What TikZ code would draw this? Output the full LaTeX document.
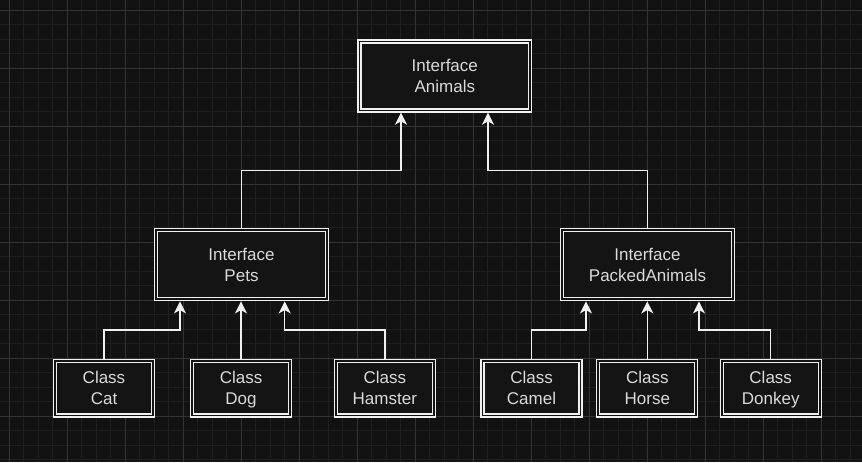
\documentclass[tikz,border=0pt]{standalone}
\usepackage{fontspec}
\setmainfont{Liberation Sans}
\usetikzlibrary{arrows.meta,calc}
\definecolor{bg}{HTML}{121212}
\definecolor{boxfill}{HTML}{141414}
\definecolor{gridminor}{HTML}{1F1F1F}
\definecolor{gridmajor}{HTML}{333333}
\definecolor{linec}{HTML}{F0F0F0}
\definecolor{txt}{HTML}{DADADA}
\newcommand{\mystrut}{\rule[-0.22\baselineskip]{0pt}{\baselineskip}}
\newcommand{\twoline}[2]{\mystrut #1\\\mystrut #2}
\begin{document}
\begin{tikzpicture}[x=0.75pt,y=-0.75pt,
  box/.style={draw=linec, double=boxfill, double distance=1.25pt, line width=1pt, fill=boxfill, text=txt, align=center, inner sep=0pt, outer sep=1.65pt, font=\fontsize{12.75}{15.8}\selectfont},
  big/.style={box, minimum width=128pt, minimum height=51.75pt},
  small/.style={box, minimum width=73.5pt, minimum height=41pt},
  arr/.style={draw=linec, line width=1.1pt, -{Stealth[length=9pt,width=9pt,inset=2.5pt]}},
  minorline/.style={draw=gridminor, line width=0.7pt},
  majorline/.style={draw=gridmajor, line width=0.7pt}]
\fill[bg] (0,0) rectangle (862,462);
\useasboundingbox (0,0) rectangle (862,462);
% grid
\foreach \i in {-1,...,60} {
  \pgfmathsetmacro\xx{9.3+14.5*\i}
  \draw[minorline] (\xx,0) -- (\xx,462);
}
\foreach \i in {-1,...,32} {
  \pgfmathsetmacro\yy{10.3+14.5*\i}
  \draw[minorline] (0,\yy) -- (862,\yy);
}
\foreach \i in {0,...,15} {
  \pgfmathsetmacro\xx{9.3+58*\i}
  \draw[majorline] (\xx,0) -- (\xx,462);
}
\foreach \i in {0,...,8} {
  \pgfmathsetmacro\yy{10.3+58*\i}
  \draw[majorline] (0,\yy) -- (862,\yy);
}
% nodes
\node[big] (animals) at (444.8,76) {\twoline{Interface}{Animals}};
\node[big] (pets) at (241.5,264.7) {\twoline{Interface}{Pets}};
\node[big] (packed) at (647.5,264.7) {\twoline{Interface}{PackedAnimals}};
\node[small] (cat) at (104,388.2) {\twoline{Class}{Cat}};
\node[small] (dog) at (241,388.2) {\twoline{Class}{Dog}};
\node[small] (hamster) at (384.8,388.2) {\twoline{Class}{Hamster}};
\node[small] (camel) at (531.5,388.2) {\twoline{Class}{Camel}};
\node[small] (horse) at (647.3,388.2) {\twoline{Class}{Horse}};
\node[small] (donkey) at (770.7,388.2) {\twoline{Class}{Donkey}};
% bend levels
\coordinate (lvla) at (0,170.7);
\coordinate (lvlb) at (0,330);
% targets
\coordinate (ta1) at ($(animals.south)+(-43.8,0)$);
\coordinate (ta2) at ($(animals.south)+(43.2,0)$);
\coordinate (tp1) at ($(pets.south)+(-61.5,0)$);
\coordinate (tp3) at ($(pets.south)+(43.2,0)$);
\coordinate (tk1) at ($(packed.south)+(-61.5,0)$);
\coordinate (tk3) at ($(packed.south)+(51.5,0)$);
% connectors
\draw[arr] (pets.north) -- (pets.north |- lvla) -| (ta1);
\draw[arr] (packed.north) -- (packed.north |- lvla) -| (ta2);
\draw[arr] (cat.north) -- (cat.north |- lvlb) -| (tp1);
\draw[arr] (dog.north) -- (dog.north |- pets.south);
\draw[arr] (hamster.north) -- (hamster.north |- lvlb) -| (tp3);
\draw[arr] (camel.north) -- (camel.north |- lvlb) -| (tk1);
\draw[arr] (horse.north) -- (horse.north |- packed.south);
\draw[arr] (donkey.north) -- (donkey.north |- lvlb) -| (tk3);
\end{tikzpicture}
\end{document}
